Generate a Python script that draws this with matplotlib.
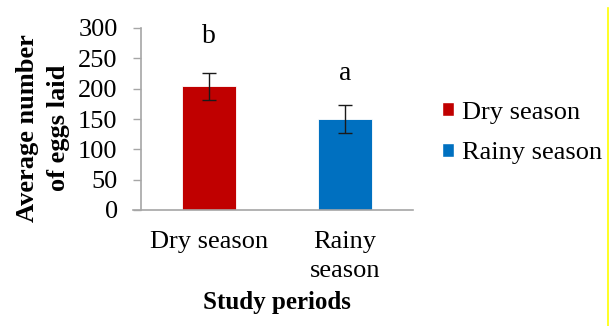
import matplotlib
matplotlib.use("Agg")
import matplotlib.pyplot as plt
import matplotlib.patches as mpatches
from matplotlib.lines import Line2D

# Egg counts per study period
periods     = ["Dry season", "Rainy\nseason"]
legend_keys = ["Dry season", "Rainy season"]
mean_eggs   = [204, 150]
err_eggs    = [22, 23]
letters     = ["b", "a"]
letter_y    = [275, 214]
colors      = ["#C00000", "#0070C0"]

yticks = [0, 50, 100, 150, 200, 250, 300]

SERIF = ["Liberation Serif", "DejaVu Serif"]
plt.rcParams["font.family"] = SERIF
AXIS_GREY = "#a6a6a6"

fig = plt.figure(figsize=(6.15, 3.26), dpi=100)
ax = fig.add_axes([141 / 615, 1 - 210 / 326, 272 / 615, 182 / 326])

x = list(range(len(periods)))
ax.bar(x, mean_eggs, width=0.4, color=colors, edgecolor="white", linewidth=0.6,
       yerr=err_eggs, capsize=5,
       error_kw=dict(ecolor="#1a1a1a", elinewidth=1.0, capthick=1.0))

for xi, lab, ly in zip(x, letters, letter_y):
    ax.text(xi, ly, lab, ha="center", va="baseline", fontsize=20)

ax.set_xlim(-0.5, 1.5)
ax.set_ylim(0, 300)
ax.set_yticks(yticks)
ax.set_xticks(x)
ax.set_xticklabels(periods, fontsize=19, linespacing=1.45)
ax.tick_params(axis="y", labelsize=19, length=5.8, width=1, color=AXIS_GREY, pad=11)
ax.tick_params(axis="x", length=0, pad=15)

for side in ("top", "right"):
    ax.spines[side].set_visible(False)
for side in ("left", "bottom"):
    ax.spines[side].set_color(AXIS_GREY)
    ax.spines[side].set_linewidth(1.2)
ax.spines["bottom"].set_bounds(-0.559, 1.5)

fig.text(43 / 615, 1 - 128 / 326, "Average number\nof eggs laid", rotation=90,
         ha="center", va="center", fontsize=19, fontweight="bold",
         linespacing=1.4)
fig.text(277 / 615, 1 - 303 / 326, "Study periods", ha="center", va="center",
         fontsize=18, fontweight="bold")

handles = [mpatches.Patch(facecolor=c, edgecolor="white", label=k)
           for c, k in zip(colors, legend_keys)]
fig.legend(handles=handles, loc="center left", bbox_to_anchor=(442 / 615, 1 - 133 / 326),
           frameon=False, prop=dict(family=SERIF, size=19), handlelength=0.45,
           handleheight=0.45, handletextpad=0.3, labelspacing=0.7, borderaxespad=0,
           borderpad=0)

# thin yellow rule on the right edge
fig.add_artist(Line2D([608 / 615, 608 / 615], [0, 1 - 8 / 326],
                      transform=fig.transFigure, color="#ffff00", linewidth=1.2))

fig.savefig("out.png", dpi=100)
